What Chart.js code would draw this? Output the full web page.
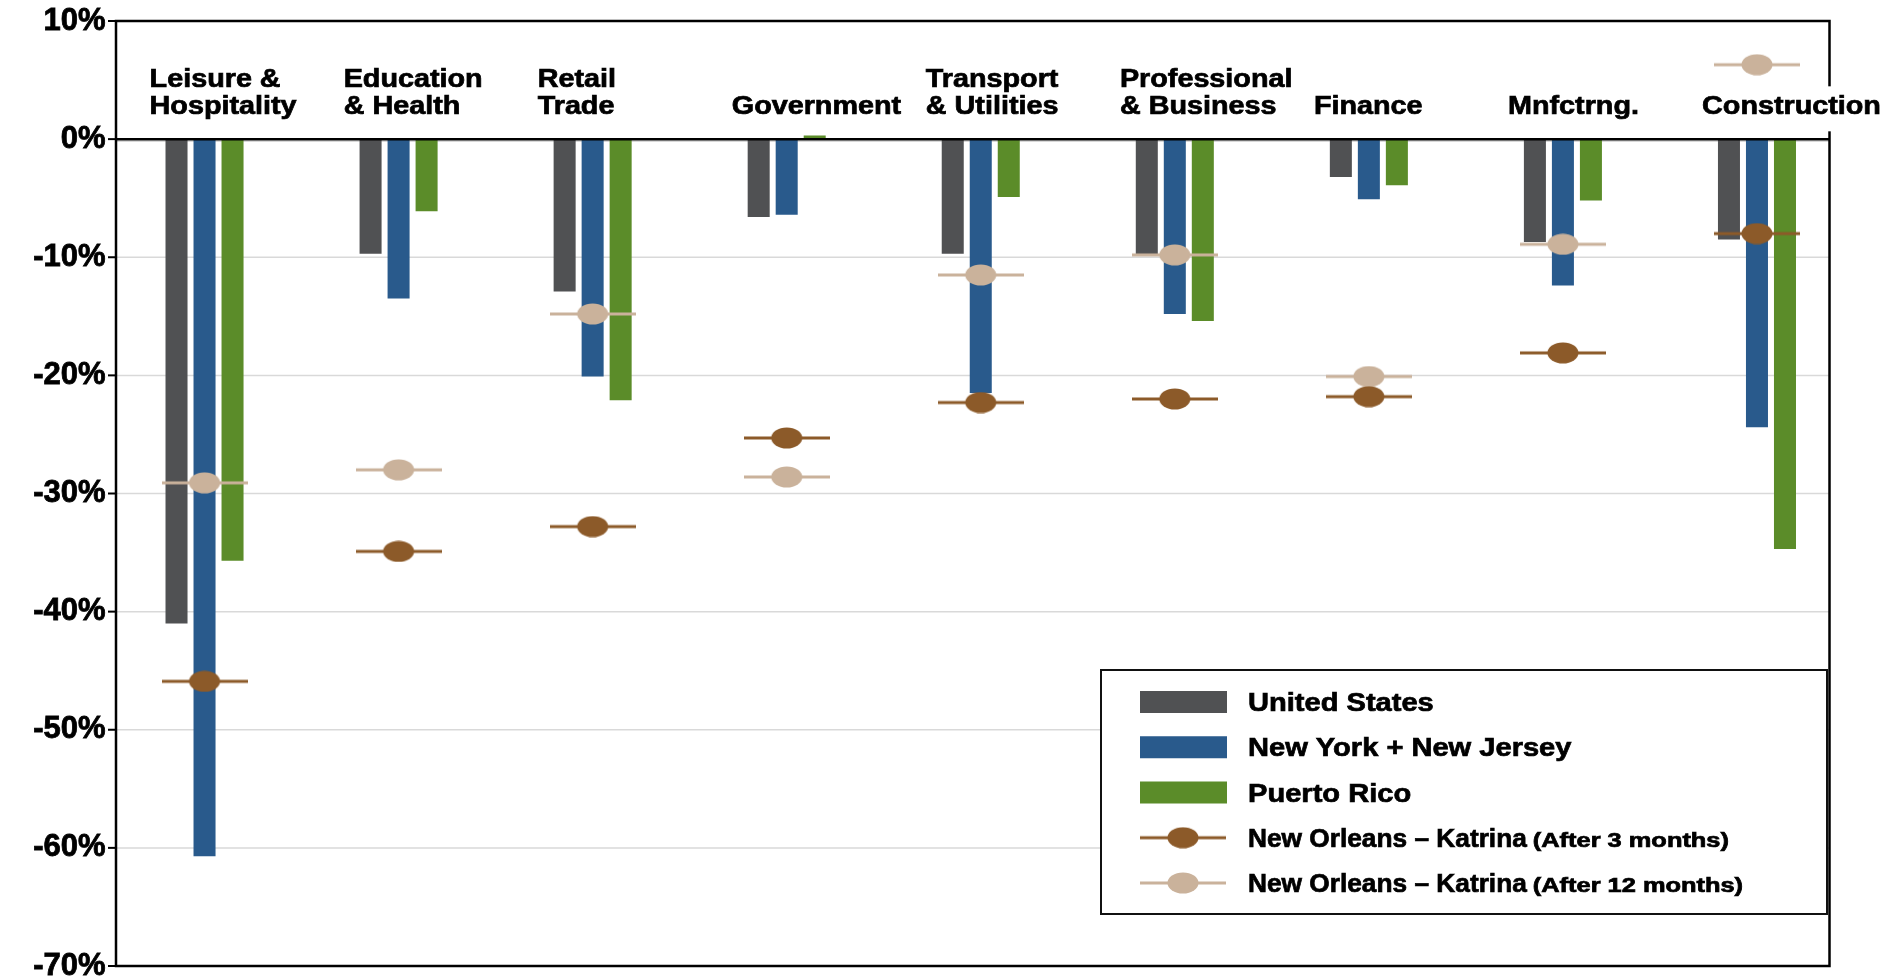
<!DOCTYPE html>
<html>
<head>
<meta charset="utf-8">
<script src="https://cdn.jsdelivr.net/npm/chart.js@4"></script>
<style>
  html, body { margin: 0; padding: 0; background: #fff; }
  #wrap { width: 1891px; height: 979px; position: relative; }
</style>
</head>
<body>
<div id="wrap"><canvas id="jobs_chart"></canvas></div>
<script>
// categories (label lines as printed above the bars)
const categories = ['Leisure & Hospitality', 'Education & Health', 'Retail Trade', 'Government',
  'Transport & Utilities', 'Professional & Business', 'Finance', 'Mnfctrng.', 'Construction'];
const categoryLines = [['Leisure &', 'Hospitality'], ['Education', '& Health'], ['Retail', 'Trade'],
  ['Government'], ['Transport', '& Utilities'], ['Professional', '& Business'], ['Finance'],
  ['Mnfctrng.'], ['Construction']];

// % change in employment
const unitedStates = [-41.0, -9.7, -12.9, -6.6, -9.7, -9.8, -3.2, -8.7, -8.5];
const newYorkNewJersey = [-60.7, -13.5, -20.1, -6.4, -21.5, -14.8, -5.1, -12.4, -24.4];
const puertoRico = [-35.7, -6.1, -22.1, 0.3, -4.9, -15.4, -3.9, -5.2, -34.7];
const katrina3m = [-45.9, -34.9, -32.8, -25.3, -22.3, -22.0, -21.8, -18.1, -8.0];
const katrina12m = [-29.1, -28.0, -14.8, -28.6, -11.5, -9.8, -20.1, -8.9, 6.3];

const yTicks = [10, 0, -10, -20, -30, -40, -50, -60, -70];

const FONT = '"Liberation Sans", Arial, sans-serif';

// marker: short horizontal line with an oval in the middle
const makeMarker = (color) => {
  const c = document.createElement('canvas');
  c.width = 86; c.height = 22;
  const g = c.getContext('2d');
  g.fillStyle = color;
  g.fillRect(0, 9.5, 86, 3);
  g.beginPath();
  g.ellipse(43, 11, 15.5, 10.5, 0, 0, Math.PI * 2);
  g.fill();
  return c;
};
const marker3m = makeMarker('#8c5a29');
const marker12m = makeMarker('#cab29b');

// text with a slight horizontal stretch like the original
const drawText = (ctx, text, x, y, size, sx, align) => {
  ctx.save();
  ctx.font = 'bold ' + size + 'px ' + FONT;
  ctx.textBaseline = 'alphabetic';
  ctx.textAlign = align || 'left';
  ctx.translate(x, y);
  ctx.scale(sx, 1);
  ctx.strokeStyle = ctx.fillStyle;
  ctx.lineWidth = 0.7;
  ctx.fillText(text, 0, 0);
  ctx.strokeText(text, 0, 0);
  const w = ctx.measureText(text).width * sx;
  ctx.restore();
  return w;
};

const framePlugin = {
  id: 'frame',
  beforeDatasetsDraw(chart) {
    const ctx = chart.ctx, area = chart.chartArea, ys = chart.scales.y;
    const left = area.left + 8.5, right = area.right - 24.5;
    ctx.save();
    ctx.strokeStyle = '#d9d9d9';
    ctx.lineWidth = 1.5;
    yTicks.forEach(t => {
      const y = ys.getPixelForValue(t) + (t === 0 ? 2 : 0);
      ctx.beginPath(); ctx.moveTo(left, y); ctx.lineTo(right, y); ctx.stroke();
    });
    ctx.restore();
  },
  afterDatasetsDraw(chart) {
    const ctx = chart.ctx, area = chart.chartArea, ys = chart.scales.y, xs = chart.scales.x;
    const left = area.left + 8.5, right = area.right - 24.5;
    const top = ys.getPixelForValue(10), bottom = ys.getPixelForValue(-70);
    ctx.save();
    ctx.strokeStyle = '#000';
    ctx.lineWidth = 2.5;
    ctx.strokeRect(left, top, right - left, bottom - top);
    const y0 = ys.getPixelForValue(0);
    ctx.beginPath(); ctx.moveTo(left, y0); ctx.lineTo(right, y0); ctx.stroke();
    ctx.lineWidth = 2;
    yTicks.forEach(t => {
      const y = ys.getPixelForValue(t);
      ctx.beginPath(); ctx.moveTo(left - 8, y); ctx.lineTo(left, y); ctx.stroke();
    });

    // category names inside the plot, above the zero line
    const catW = xs.width / categories.length;
    const lastBase = ys.getPixelForValue(2.1);
    ctx.font = 'bold 25px ' + FONT;
    categoryLines.forEach((lines, i) => {
      const x = xs.getPixelForValue(i) - 0.283 * catW;
      const widest = Math.max(...lines.map(s => ctx.measureText(s).width)) * 1.15;
      const firstBase = lastBase - (lines.length - 1) * 27.6;
      ctx.fillStyle = '#fff';
      ctx.fillRect(x - 6, firstBase - 28, widest + 12, lastBase - firstBase + 45);
      ctx.fillStyle = '#000';
      lines.forEach((s, k) => drawText(ctx, s, x, firstBase + k * 27.6, 25, 1.15));
    });

    // legend box
    const lr = right - 2.5, lw = 726, lh = 244;
    const lb = bottom - 52, ll = lr - lw, lt = lb - lh;
    ctx.fillStyle = '#fff';
    ctx.fillRect(ll, lt, lw, lh);
    ctx.strokeStyle = '#111';
    ctx.lineWidth = 2;
    ctx.strokeRect(ll, lt, lw, lh);
    chart.data.datasets.forEach((ds, k) => {
      const cy = lt + 32 + k * 45.25;
      if (ds.type === 'bar') {
        ctx.fillStyle = ds.backgroundColor;
        ctx.fillRect(ll + 39, cy - 11, 87, 22);
      } else {
        ctx.drawImage(ds.pointStyle, ll + 39, cy - 11);
      }
      ctx.fillStyle = '#000';
      const w = drawText(ctx, ds.label, ll + 147, cy + 9, 25.5, ds.note ? 1.03 : 1.14);
      if (ds.note) drawText(ctx, ds.note, ll + 147 + w + 6, cy + 9, 20, 1.27);
    });
    ctx.restore();
  }
};

const barDs = (label, data, color) => ({
  type: 'bar', label, data, backgroundColor: color, order: 2,
  categoryPercentage: 0.433, barPercentage: 0.786
});
const markDs = (label, note, data, img) => ({
  type: 'line', label, note, data, showLine: false, order: 1,
  pointStyle: img, pointRadius: 12, pointHoverRadius: 12
});

const jobsChart = new Chart(document.getElementById('jobs_chart').getContext('2d'), {
  data: {
    labels: categories,
    datasets: [
      barDs('United States', unitedStates, '#505153'),
      barDs('New York + New Jersey', newYorkNewJersey, '#295a8c'),
      barDs('Puerto Rico', puertoRico, '#5b8c29'),
      markDs('New Orleans \u2013 Katrina', '(After 3 months)', katrina3m, marker3m),
      markDs('New Orleans \u2013 Katrina', '(After 12 months)', katrina12m, marker12m)
    ]
  },
  options: {
    responsive: true,
    maintainAspectRatio: false,
    animation: false,
    events: [],
    layout: { padding: { left: 0, top: 21, right: 37, bottom: 12 } },
    plugins: { legend: { display: false }, tooltip: { enabled: false } },
    scales: {
      x: { type: 'category', display: false, offset: true },
      y: {
        min: -70, max: 10,
        border: { display: false },
        grid: { display: false, drawTicks: false, tickLength: 0 },
        ticks: {
          stepSize: 10, padding: 2, color: '#000',
          textStrokeColor: '#000', textStrokeWidth: 0.8,
          font: { family: FONT, size: 31, weight: 'bold' },
          callback: v => v + '%'
        },
        afterFit: s => { s.width = 107.5; s.paddingTop = 0; s.paddingBottom = 0; }
      }
    }
  },
  plugins: [framePlugin]
});
</script>
</body>
</html>
